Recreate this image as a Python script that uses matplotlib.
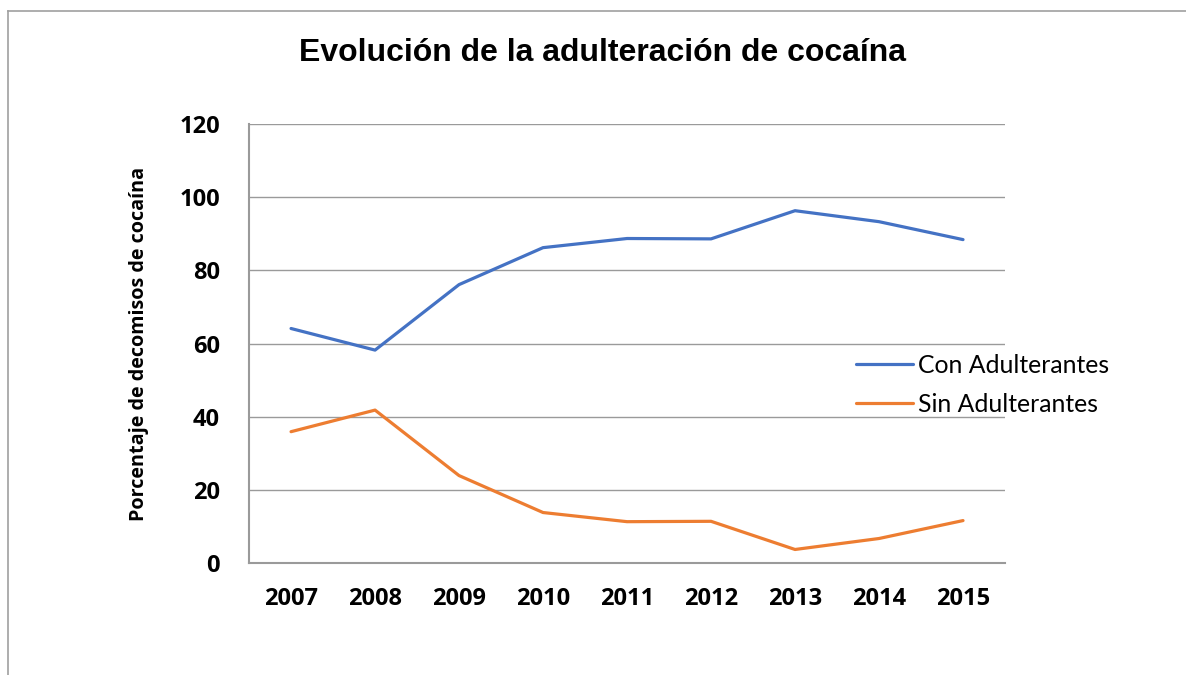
import matplotlib.pyplot as plt
from matplotlib.lines import Line2D

years = ["2007", "2008", "2009", "2010", "2011", "2012", "2013", "2014", "2015"]
con_adulterantes = [64.1, 58.2, 76.1, 86.2, 88.7, 88.6, 96.3, 93.3, 88.4]
sin_adulterantes = [35.9, 41.8, 23.9, 13.8, 11.3, 11.4, 3.7, 6.7, 11.6]
yticks = [0, 20, 40, 60, 80, 100, 120]

blue = "#4472C4"
orange = "#ED7D31"
grid_gray = "#9a9a9a"
tick_font = {"family": "Open Sans", "weight": "bold", "size": 17}

fig = plt.figure(figsize=(11.86, 6.75), dpi=100)
ax = fig.add_axes([0.21, 0.1659, 0.6374, 0.6504])

x = list(range(len(years)))
ax.plot(x, con_adulterantes, color=blue, lw=2.3, label="Con Adulterantes",
        solid_capstyle="round", solid_joinstyle="round")
ax.plot(x, sin_adulterantes, color=orange, lw=2.3, label="Sin Adulterantes",
        solid_capstyle="round", solid_joinstyle="round")

ax.set_xlim(-0.5, len(years) - 0.5)
ax.set_ylim(0, 120)
ax.set_yticks(yticks)
ax.set_yticklabels([str(v) for v in yticks], fontdict=tick_font)
ax.set_xticks(x)
ax.set_xticklabels(years, fontdict=tick_font)
ax.yaxis.grid(True, color=grid_gray, lw=1)
ax.set_axisbelow(True)
for s in ["top", "right"]:
    ax.spines[s].set_visible(False)
for s in ["left", "bottom"]:
    ax.spines[s].set_color(grid_gray)
    ax.spines[s].set_linewidth(1.5)
ax.tick_params(length=0)
ax.tick_params(axis="x", pad=17)
ax.tick_params(axis="y", pad=21)

ax.set_ylabel("Porcentaje de decomisos de cocaína", fontsize=14.2,
              fontfamily="Open Sans", fontweight="bold", labelpad=22)

fig.text(0.508, 0.922, "Evolución de la adulteración de cocaína",
         ha="center", va="center", fontsize=23, fontweight="bold",
         fontfamily="Liberation Sans")

leg = ax.legend(loc="center left", bbox_to_anchor=(0.703, 0.43),
                bbox_transform=fig.transFigure, frameon=False,
                prop={"family": "Lato", "size": 17.8}, handlelength=2.3,
                handletextpad=0.2, labelspacing=0.66)

# outer frame of the chart area
fig.add_artist(Line2D([8 / 1186, 8 / 1186], [0, 1 - 11 / 675],
                      transform=fig.transFigure, color="#a0a0a0", lw=1.2))
fig.add_artist(Line2D([8 / 1186, 1], [1 - 11 / 675, 1 - 11 / 675],
                      transform=fig.transFigure, color="#a0a0a0", lw=1.2))

fig.savefig("out.png", dpi=100)
